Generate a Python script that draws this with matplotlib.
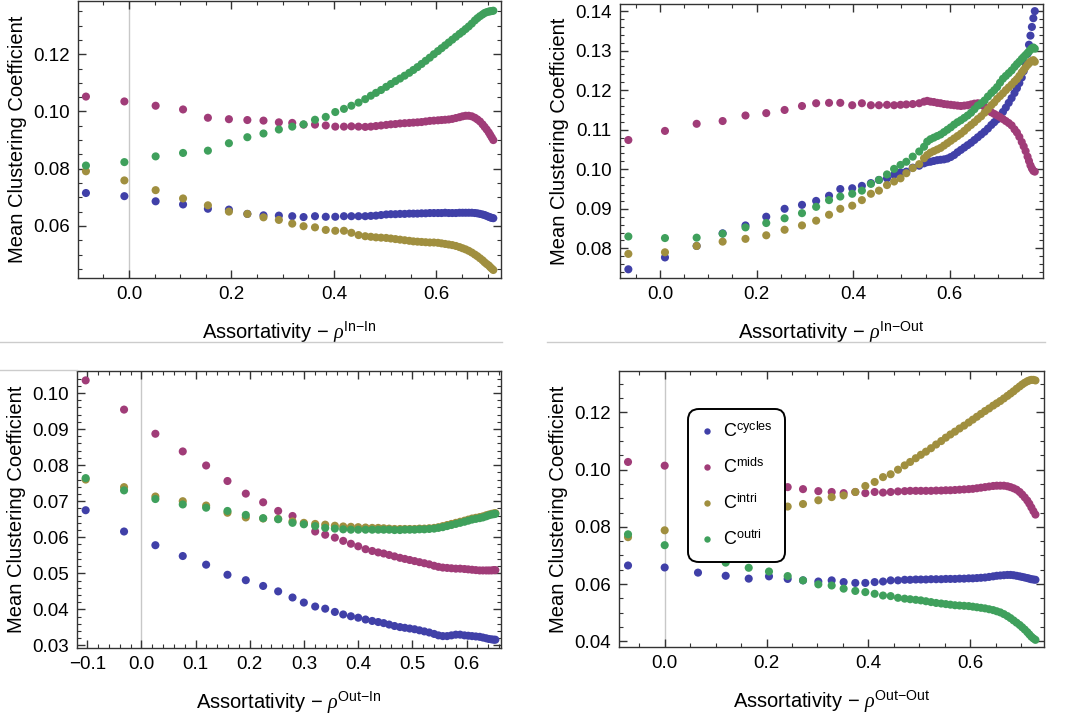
import matplotlib
matplotlib.use("Agg")
import matplotlib.pyplot as plt
from matplotlib.ticker import MultipleLocator, FuncFormatter
from matplotlib.lines import Line2D

plt.rcParams['font.family'] = ['Liberation Sans', 'DejaVu Sans']
plt.rcParams['mathtext.fontset'] = 'custom'
plt.rcParams['mathtext.rm'] = 'Liberation Sans'
plt.rcParams['mathtext.it'] = 'Liberation Serif:italic'
plt.rcParams['mathtext.bf'] = 'Liberation Sans:bold'

# ---------------- data ----------------
series_names = ['cycles', 'mids', 'intri', 'outri']
series_labels = ['C$^{\\mathrm{cycles}}$', 'C$^{\\mathrm{mids}}$',
                 'C$^{\\mathrm{intri}}$', 'C$^{\\mathrm{outri}}$']
series_colors = ['#4040a8', '#a03c78', '#a08f3f', '#3fa05c']

# Panel 1: rho In-In
inin_x = [-0.084, -0.009, 0.052, 0.1055, 0.154, 0.195, 0.231, 0.2625, 0.2925, 0.3186,
          0.3407, 0.363, 0.384, 0.4026, 0.4195, 0.434, 0.448, 0.461,
          0.472, 0.482, 0.492, 0.502, 0.511, 0.520, 0.529, 0.538, 0.547, 0.555,
          0.563, 0.571, 0.579, 0.587, 0.595, 0.603, 0.610, 0.617, 0.624, 0.631,
          0.638, 0.645, 0.651, 0.657, 0.663, 0.669, 0.675, 0.680, 0.685, 0.690,
          0.694, 0.698, 0.702, 0.705, 0.708, 0.711]
inin_cycles = [0.0715, 0.0704, 0.0686, 0.0675, 0.0660, 0.0657, 0.0642, 0.0637, 0.0636, 0.0634,
               0.0631, 0.0634, 0.0632, 0.0632, 0.0634, 0.0634, 0.0634, 0.0634,
               0.0635, 0.0636, 0.0638, 0.0640, 0.0641, 0.0641, 0.0642, 0.0642, 0.0643, 0.0643,
               0.0643, 0.0644, 0.0644, 0.0645, 0.0645, 0.0645, 0.0645, 0.0646, 0.0645, 0.0645,
               0.0645, 0.0646, 0.0646, 0.0646, 0.0646, 0.0646, 0.0645, 0.0644, 0.0642, 0.0640,
               0.0638, 0.0635, 0.0632, 0.0630, 0.0628, 0.0627]
inin_mids = [0.1052, 0.1035, 0.1020, 0.1007, 0.0978, 0.0973, 0.0970, 0.0968, 0.0962, 0.0960,
             0.0954, 0.0954, 0.0951, 0.0947, 0.0947, 0.0948, 0.0947, 0.0946,
             0.0947, 0.0949, 0.0951, 0.0953, 0.0955, 0.0956, 0.0958, 0.0959, 0.0960, 0.0961,
             0.0962, 0.0963, 0.0965, 0.0967, 0.0968, 0.0969, 0.0970, 0.0971, 0.0972, 0.0974,
             0.0977, 0.0980, 0.0983, 0.0985, 0.0985, 0.0983, 0.0978, 0.0972, 0.0965, 0.0955,
             0.0946, 0.0937, 0.0927, 0.0918, 0.0909, 0.0900]
inin_intri = [0.0791, 0.0759, 0.0725, 0.0696, 0.0672, 0.0650, 0.0642, 0.0630, 0.0621, 0.0608,
              0.0599, 0.0595, 0.0586, 0.0583, 0.0583, 0.0576, 0.0568, 0.0564,
              0.0562, 0.0560, 0.0559, 0.0558, 0.0556, 0.0554, 0.0552, 0.0550, 0.0548, 0.0546,
              0.0545, 0.0544, 0.0543, 0.0542, 0.0542, 0.0541, 0.0539, 0.0537, 0.0535, 0.0533,
              0.0530, 0.0526, 0.0522, 0.0518, 0.0513, 0.0507, 0.0500, 0.0494, 0.0487, 0.0480,
              0.0473, 0.0467, 0.0462, 0.0456, 0.0451, 0.0446]
inin_outri = [0.0811, 0.0823, 0.0843, 0.0855, 0.0863, 0.0889, 0.0910, 0.0923, 0.0937, 0.0947,
              0.0955, 0.0971, 0.0981, 0.0998, 0.1009, 0.1020, 0.1031, 0.1043,
              0.1055, 0.1065, 0.1075, 0.1086, 0.1096, 0.1106, 0.1115, 0.1125, 0.1135, 0.1145,
              0.1155, 0.1166, 0.1177, 0.1188, 0.1200, 0.1211, 0.1221, 0.1231, 0.1241, 0.1251,
              0.1261, 0.1271, 0.1279, 0.1288, 0.1297, 0.1307, 0.1318, 0.1326, 0.1333, 0.1339,
              0.1344, 0.1347, 0.1349, 0.1350, 0.1351, 0.1352]

# Panel 2: rho In-Out
inout_x = [-0.0655, 0.0103, 0.0759, 0.1297, 0.177, 0.220, 0.258, 0.294, 0.3233, 0.350,
           0.3733, 0.398, 0.418, 0.4367, 0.4533, 0.470, 0.4847, 0.498, 0.510, 0.5233,
           0.5367, 0.5467, 0.5533,
           0.560, 0.567, 0.574, 0.581, 0.588, 0.595, 0.602, 0.609, 0.616, 0.623,
           0.630, 0.637, 0.644, 0.651, 0.658, 0.665, 0.672, 0.679, 0.686, 0.692,
           0.698, 0.704, 0.710, 0.716, 0.722, 0.728, 0.734, 0.739, 0.744, 0.749,
           0.753, 0.757, 0.761, 0.764, 0.767, 0.770, 0.773, 0.776]
inout_cycles = [0.0747, 0.0777, 0.0806, 0.0838, 0.0858, 0.0880, 0.0900, 0.0910, 0.0920, 0.0933,
                0.0950, 0.0952, 0.0958, 0.0965, 0.0973, 0.0977, 0.0986, 0.0992, 0.0994, 0.1004,
                0.1009, 0.1015, 0.1018,
                0.1019, 0.1021, 0.1023, 0.1024, 0.1025, 0.1027, 0.1031, 0.1036, 0.1043, 0.1049,
                0.1055, 0.1061, 0.1067, 0.1074, 0.1081, 0.1088, 0.1095, 0.1103, 0.1112, 0.1119,
                0.1126, 0.1135, 0.1145, 0.1156, 0.1168, 0.1180, 0.1193, 0.1205, 0.1218, 0.1232,
                0.1248, 0.1268, 0.1292, 0.1315, 0.1338, 0.1360, 0.1382, 0.1400]
inout_mids = [0.1074, 0.1097, 0.1115, 0.1122, 0.1136, 0.1142, 0.1150, 0.1160, 0.1167, 0.1168,
              0.1168, 0.1162, 0.1167, 0.1162, 0.1162, 0.1163, 0.1162, 0.1163, 0.1164, 0.1165,
              0.1167, 0.1171, 0.1173,
              0.1171, 0.1170, 0.1168, 0.1167, 0.1165, 0.1164, 0.1163, 0.1162, 0.1161, 0.1160,
              0.1161, 0.1162, 0.1164, 0.1166, 0.1167, 0.1163, 0.1158, 0.1151, 0.1144, 0.1140,
              0.1136, 0.1132, 0.1127, 0.1122, 0.1117, 0.1111, 0.1101, 0.1093, 0.1082, 0.1069,
              0.1058, 0.1046, 0.1032, 0.1021, 0.1010, 0.1002, 0.0996, 0.0994]
inout_intri = [0.0786, 0.0790, 0.0806, 0.0817, 0.0824, 0.0833, 0.0847, 0.0858, 0.0870, 0.0885,
               0.0900, 0.0908, 0.0922, 0.0938, 0.0946, 0.0960, 0.0969, 0.0977, 0.0990, 0.1003,
               0.1013, 0.1028, 0.1036,
               0.1042, 0.1046, 0.1050, 0.1054, 0.1060, 0.1066, 0.1072, 0.1078, 0.1084, 0.1090,
               0.1097, 0.1105, 0.1112, 0.1119, 0.1127, 0.1134, 0.1143, 0.1152, 0.1162, 0.1169,
               0.1178, 0.1185, 0.1192, 0.1200, 0.1207, 0.1214, 0.1222, 0.1228, 0.1236, 0.1245,
               0.1251, 0.1258, 0.1264, 0.1268, 0.1272, 0.1274, 0.1276, 0.1272]
inout_outri = [0.0830, 0.0826, 0.0827, 0.0837, 0.0853, 0.0864, 0.0876, 0.0889, 0.0905, 0.0922,
               0.0931, 0.0938, 0.0946, 0.0963, 0.0973, 0.0987, 0.1001, 0.1011, 0.1019, 0.1032,
               0.1045, 0.1057, 0.1070,
               0.1076, 0.1080, 0.1084, 0.1088, 0.1094, 0.1100, 0.1106, 0.1113, 0.1119, 0.1124,
               0.1130, 0.1136, 0.1143, 0.1152, 0.1161, 0.1167, 0.1174, 0.1184, 0.1193, 0.1200,
               0.1208, 0.1219, 0.1229, 0.1236, 0.1243, 0.1250, 0.1259, 0.1266, 0.1272, 0.1279,
               0.1284, 0.1289, 0.1294, 0.1298, 0.1302, 0.1306, 0.1308, 0.1305]

# Panel 3: rho Out-In
outin_x = [-0.1028, -0.032, 0.0258, 0.0763, 0.1194, 0.1588, 0.1926, 0.2246, 0.2523, 0.2788,
           0.2997, 0.3206, 0.3391, 0.3569, 0.3723, 0.3865, 0.400, 0.4135, 0.4258, 0.4369,
           0.447, 0.457, 0.467, 0.477, 0.486, 0.495, 0.504, 0.513, 0.522, 0.531,
           0.540, 0.548, 0.556, 0.564, 0.572, 0.580, 0.588, 0.596,
           0.603, 0.610, 0.617, 0.624, 0.630, 0.636, 0.641, 0.646, 0.650, 0.653]
outin_cycles = [0.0675, 0.0616, 0.0578, 0.0548, 0.0524, 0.0496, 0.0481, 0.0465, 0.0450, 0.0433,
                0.0419, 0.0408, 0.0402, 0.0393, 0.0386, 0.0381, 0.0377, 0.0372, 0.0368, 0.0365,
                0.0362, 0.0358, 0.0354, 0.0351, 0.0349, 0.0347, 0.0345, 0.0342, 0.0339, 0.0336,
                0.0332, 0.0328, 0.0326, 0.0326, 0.0328, 0.0330, 0.0330, 0.0328,
                0.0327, 0.0326, 0.0325, 0.0324, 0.0322, 0.0320, 0.0318, 0.0317, 0.0316, 0.0316]
outin_mids = [0.1035, 0.0954, 0.0887, 0.0838, 0.0799, 0.0756, 0.0721, 0.0697, 0.0673, 0.0659,
              0.0638, 0.0616, 0.0607, 0.0599, 0.0590, 0.0582, 0.0575, 0.0567, 0.0562, 0.0558,
              0.0555, 0.0551, 0.0547, 0.0543, 0.0540, 0.0537, 0.0534, 0.0531, 0.0528, 0.0525,
              0.0521, 0.0518, 0.0516, 0.0515, 0.0514, 0.0513, 0.0513, 0.0512,
              0.0511, 0.0510, 0.0509, 0.0508, 0.0508, 0.0508, 0.0508, 0.0508, 0.0509, 0.0509]
outin_intri = [0.0760, 0.0739, 0.0713, 0.0700, 0.0688, 0.0668, 0.0655, 0.0652, 0.0651, 0.0644,
               0.0640, 0.0637, 0.0635, 0.0632, 0.0630, 0.0629, 0.0628, 0.0627, 0.0626, 0.0626,
               0.0625, 0.0624, 0.0623, 0.0623, 0.0623, 0.0623, 0.0623, 0.0624, 0.0624, 0.0625,
               0.0626, 0.0628, 0.0631, 0.0634, 0.0637, 0.0640, 0.0643, 0.0646,
               0.0649, 0.0652, 0.0654, 0.0656, 0.0658, 0.0661, 0.0663, 0.0665, 0.0666, 0.0667]
outin_outri = [0.0764, 0.0730, 0.0706, 0.0691, 0.0682, 0.0673, 0.0662, 0.0653, 0.0650, 0.0640,
               0.0636, 0.0631, 0.0626, 0.0624, 0.0622, 0.0621, 0.0621, 0.0621, 0.0621, 0.0621,
               0.0621, 0.0621, 0.0620, 0.0620, 0.0621, 0.0621, 0.0621, 0.0622, 0.0622, 0.0623,
               0.0624, 0.0626, 0.0628, 0.0631, 0.0634, 0.0637, 0.0640, 0.0643,
               0.0646, 0.0649, 0.0651, 0.0653, 0.0655, 0.0658, 0.0661, 0.0663, 0.0664, 0.0665]

# Panel 4: rho Out-Out
outout_x = [-0.072, 0.0, 0.0654, 0.1198, 0.165, 0.2048, 0.2415, 0.2716, 0.3017, 0.3279,
            0.3514, 0.3743, 0.394, 0.4123, 0.4287, 0.4437, 0.4581, 0.4712,
            0.482, 0.493, 0.503, 0.513, 0.523, 0.533, 0.543, 0.552, 0.561, 0.570,
            0.579, 0.588, 0.597, 0.605, 0.613, 0.621, 0.629, 0.637, 0.645, 0.652,
            0.659, 0.666, 0.673, 0.679, 0.685, 0.691, 0.697, 0.702, 0.707, 0.712,
            0.716, 0.720, 0.724, 0.728]
outout_cycles = [0.0665, 0.0658, 0.0640, 0.0629, 0.0619, 0.0627, 0.0618, 0.0613, 0.0609, 0.0613,
                 0.0607, 0.0604, 0.0604, 0.0607, 0.0609, 0.0613, 0.0613, 0.0615,
                 0.0615, 0.0616, 0.0616, 0.0616, 0.0617, 0.0617, 0.0617, 0.0618, 0.0618, 0.0618,
                 0.0619, 0.0619, 0.0620, 0.0620, 0.0621, 0.0622, 0.0623, 0.0625, 0.0627, 0.0629,
                 0.0630, 0.0631, 0.0632, 0.0632, 0.0631, 0.0629, 0.0627, 0.0625, 0.0623, 0.0621,
                 0.0619, 0.0617, 0.0616, 0.0615]
outout_mids = [0.1027, 0.1014, 0.0985, 0.0968, 0.0957, 0.0946, 0.0939, 0.0932, 0.0925, 0.0922,
               0.0918, 0.0922, 0.0918, 0.0922, 0.0920, 0.0922, 0.0924, 0.0925,
               0.0926, 0.0926, 0.0926, 0.0926, 0.0926, 0.0927, 0.0927, 0.0928, 0.0928, 0.0929,
               0.0930, 0.0931, 0.0932, 0.0933, 0.0935, 0.0937, 0.0939, 0.0941, 0.0943, 0.0944,
               0.0944, 0.0944, 0.0942, 0.0939, 0.0935, 0.0930, 0.0922, 0.0913, 0.0903, 0.0892,
               0.0881, 0.0868, 0.0855, 0.0843]
outout_intri = [0.0764, 0.0788, 0.0805, 0.0822, 0.0838, 0.0855, 0.0871, 0.0880, 0.0893, 0.0904,
                0.0910, 0.0922, 0.0943, 0.0957, 0.0974, 0.0984, 0.1000, 0.1015,
                0.1027, 0.1040, 0.1052, 0.1063, 0.1075, 0.1088, 0.1100, 0.1112, 0.1123, 0.1133,
                0.1144, 0.1154, 0.1165, 0.1175, 0.1185, 0.1195, 0.1205, 0.1214, 0.1224, 0.1232,
                0.1240, 0.1249, 0.1258, 0.1266, 0.1274, 0.1283, 0.1291, 0.1298, 0.1304, 0.1309,
                0.1312, 0.1314, 0.1314, 0.1312]
outout_outri = [0.0774, 0.0736, 0.0703, 0.0675, 0.0657, 0.0644, 0.0628, 0.0613, 0.0599, 0.0595,
                0.0584, 0.0576, 0.0572, 0.0566, 0.0560, 0.0558, 0.0552, 0.0549,
                0.0547, 0.0545, 0.0543, 0.0540, 0.0537, 0.0534, 0.0532, 0.0530, 0.0528, 0.0526,
                0.0525, 0.0524, 0.0523, 0.0521, 0.0519, 0.0517, 0.0515, 0.0512, 0.0509, 0.0505,
                0.0501, 0.0495, 0.0488, 0.0481, 0.0473, 0.0465, 0.0457, 0.0449, 0.0441, 0.0432,
                0.0424, 0.0416, 0.0410, 0.0405]

xlabel_sups = ['In{-}In', 'In{-}Out', 'Out{-}In', 'Out{-}Out']

# ---------------- figure ----------------
W, H = 1069, 717
fig = plt.figure(figsize=(W / 100, H / 100), dpi=100)


def rect(l, r, t, b):
    return [l / W, 1 - b / H, (r - l) / W, (b - t) / H]


def fmt(decimals):
    def f(v, _):
        s = f'{v:.{decimals}f}'
        if float(s) == 0:
            s = s.lstrip('-')
        return s.replace('-', '\u2212')
    return FuncFormatter(f)


panels = [
    dict(rect=rect(78, 501, 1, 278), x=inin_x,
         ys=[inin_cycles, inin_mids, inin_intri, inin_outri],
         xlim=(-0.0995, 0.726), ylim=(0.0418, 0.1386),
         xmaj=0.2, xmin=0.05, ymaj=0.02, ymin=0.005, zero=True, sup=xlabel_sups[0]),
    dict(rect=rect(620, 1043, 4, 278), x=inout_x,
         ys=[inout_cycles, inout_mids, inout_intri, inout_outri],
         xlim=(-0.0828, 0.793), ylim=(0.0725, 0.1418),
         xmaj=0.2, xmin=0.05, ymaj=0.01, ymin=0.002, zero=False, sup=xlabel_sups[1]),
    dict(rect=rect(77, 501, 371, 648), x=outin_x,
         ys=[outin_cycles, outin_mids, outin_intri, outin_outri],
         xlim=(-0.1188, 0.6634), ylim=(0.0293, 0.1061),
         xmaj=0.1, xmin=0.02, ymaj=0.01, ymin=0.002, zero=True, sup=xlabel_sups[2]),
    dict(rect=rect(619, 1044, 371, 647), x=outout_x,
         ys=[outout_cycles, outout_mids, outout_intri, outout_outri],
         xlim=(-0.0897, 0.7448), ylim=(0.038, 0.1345),
         xmaj=0.2, xmin=0.05, ymaj=0.02, ymin=0.005, zero=True, sup=xlabel_sups[3]),
]

axes = []
for p in panels:
    ax = fig.add_axes(p['rect'])
    for y, c in zip(p['ys'], series_colors):
        ax.scatter(p['x'], y, s=34, color=c, edgecolors='none', zorder=3, clip_on=False)
    if p['zero']:
        ax.axvline(0, color='#c8c8c8', lw=1.0, zorder=1)
    ax.set_xlim(*p['xlim'])
    ax.set_ylim(*p['ylim'])
    ax.xaxis.set_major_locator(MultipleLocator(p['xmaj']))
    ax.xaxis.set_minor_locator(MultipleLocator(p['xmin']))
    ax.yaxis.set_major_locator(MultipleLocator(p['ymaj']))
    ax.yaxis.set_minor_locator(MultipleLocator(p['ymin']))
    ax.xaxis.set_major_formatter(fmt(1))
    ax.yaxis.set_major_formatter(fmt(2))
    ax.tick_params(which='both', direction='in', top=True, right=True,
                   color='#333333', labelsize=13.5, pad=6)
    ax.tick_params(which='major', length=6, width=1.0)
    ax.tick_params(which='minor', length=3, width=0.8)
    for sp in ax.spines.values():
        sp.set_color('#333333')
        sp.set_linewidth(1.0)
    ax.set_ylabel('Mean Clustering Coefficient', fontsize=14.5, labelpad=4)
    ax.set_xlabel('Assortativity \u2212 $\\rho^{\\mathrm{' + p['sup'] + '}}$',
                  fontsize=14.5, labelpad=12)
    axes.append(ax)

# legend in the last panel
handles = [Line2D([], [], ls='none', marker='o', ms=4.6, color=c, markeredgewidth=0)
           for c in series_colors]
leg = axes[3].legend(handles, series_labels, loc='upper left',
                     bbox_to_anchor=(688 / W, 1 - 409 / H), bbox_transform=fig.transFigure,
                     frameon=True, fancybox=True, framealpha=1, facecolor='white',
                     edgecolor='black', fontsize=13, labelspacing=0.92,
                     handlelength=0.7, handletextpad=0.5, borderpad=0.72, borderaxespad=0)
leg.get_frame().set_linewidth(1.4)
leg.get_frame().set_boxstyle('round,pad=0,rounding_size=0.6')
leg.set_zorder(10)

# light separator lines between the sub-figures
for (x0, x1, yy) in [(0, 502, 342), (547, 1045, 342), (0, 77, 370)]:
    fig.add_artist(Line2D([x0 / W, x1 / W], [1 - yy / H, 1 - yy / H],
                          transform=fig.transFigure, color='#cccccc', lw=1.0))

fig.savefig('out.png', dpi=100)
